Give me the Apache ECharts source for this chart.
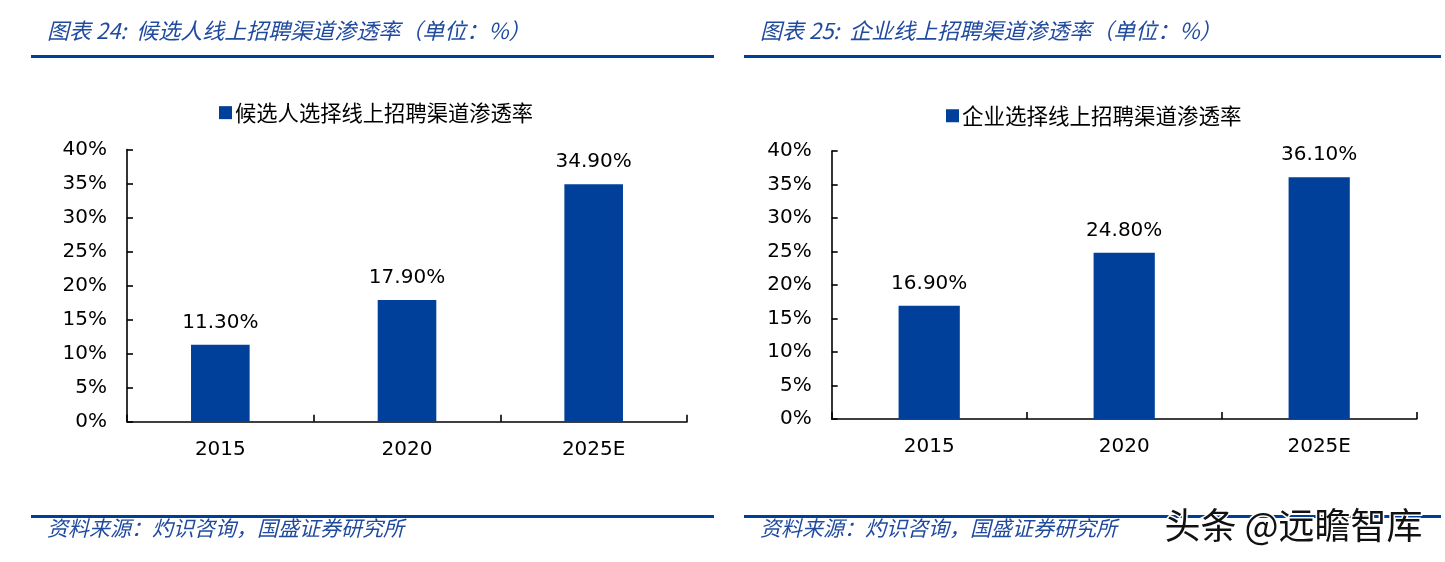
<!DOCTYPE html>
<html>
<head>
<meta charset="utf-8">
<script src="https://cdn.jsdelivr.net/npm/echarts@6/dist/echarts.min.js"></script>
<style>
html,body{margin:0;padding:0;background:#fff;}
#chart{width:1445px;height:562px;}
</style>
</head>
<body>
<div id="chart"></div>
<script>
// ---- data ----
const categories = ['2015', '2020', '2025E'];
const candidateValues = [11.3, 17.9, 34.9];
const enterpriseValues = [16.9, 24.8, 36.1];
const candidateName = '候选人选择线上招聘渠道渗透率';
const enterpriseName = '企业选择线上招聘渠道渗透率';
const titleLeft = '图表 24:  候选人线上招聘渠道渗透率（单位：%）';
const titleRight = '图表 25:  企业线上招聘渠道渗透率（单位：%）';
const sourceText = '资料来源：灼识咨询，国盛证券研究所';
const watermark = '头条 @远瞻智库';
const yMin = 0, yMax = 40, yStep = 5;

const numFont = '"DejaVu Sans", Verdana, sans-serif';
const cjkFont = '"Noto Sans CJK SC", "DejaVu Sans", sans-serif';
const barColor = '#00409a';
const lineBlue = '#003f98';
const titleBlue = '#1f4a9e';

const chart = echarts.init(document.getElementById('chart'), null, {renderer: 'canvas'});

function yAxis(gridIndex) {
  return {
    type: 'value', gridIndex, min: yMin, max: yMax, interval: yStep,
    axisLine: {show: true, lineStyle: {color: '#000', width: 1.6}},
    axisTick: {show: true, inside: true, length: 6, lineStyle: {color: '#000', width: 1.6}},
    splitLine: {show: false},
    axisLabel: {formatter: '{value}%', color: '#000', fontSize: 20, fontFamily: numFont, margin: 20}
  };
}
function xAxis(gridIndex) {
  return {
    type: 'category', gridIndex, data: categories,
    axisLine: {show: true, lineStyle: {color: '#000', width: 1.6}},
    axisTick: {show: true, inside: true, length: 7, lineStyle: {color: '#000', width: 1.6}},
    axisLabel: {color: '#000', fontSize: 20, fontFamily: numFont, margin: 18}
  };
}
function barSeries(name, data, idx) {
  return {
    type: 'bar', name, data, xAxisIndex: idx, yAxisIndex: idx,
    barWidth: '31.4%',
    itemStyle: {color: barColor},
    label: {
      show: true, position: 'top', distance: 12,
      formatter: p => p.value.toFixed(2) + '%',
      color: '#000', fontSize: 20, fontFamily: numFont
    }
  };
}

const option = {
  animation: false,
  backgroundColor: '#fff',
  title: [
    {text: titleLeft, left: 47, top: 20, padding: 0,
     textStyle: {color: titleBlue, fontSize: 22, fontStyle: 'italic', fontWeight: 'normal', fontFamily: cjkFont}},
    {text: titleRight, left: 760, top: 20, padding: 0,
     textStyle: {color: titleBlue, fontSize: 22, fontStyle: 'italic', fontWeight: 'normal', fontFamily: cjkFont}},
    {text: sourceText, left: 47, top: 518, padding: 0,
     textStyle: {color: titleBlue, fontSize: 21, fontStyle: 'italic', fontWeight: 'normal', fontFamily: cjkFont}},
    {text: sourceText, left: 760, top: 518, padding: 0,
     textStyle: {color: titleBlue, fontSize: 21, fontStyle: 'italic', fontWeight: 'normal', fontFamily: cjkFont}}
  ],
  legend: [
    {data: [candidateName], left: 219, top: 102, padding: 0, itemWidth: 13, itemHeight: 13, itemGap: 0,
     icon: 'rect', textStyle: {fontSize: 21.3, color: '#000', fontFamily: cjkFont, padding: [0, 0, 0, -2]}},
    {data: [enterpriseName], left: 946, top: 105, padding: 0, itemWidth: 13, itemHeight: 13, itemGap: 0,
     icon: 'rect', textStyle: {fontSize: 21.5, color: '#000', fontFamily: cjkFont, padding: [0, 0, 0, -2]}}
  ],
  grid: [
    {left: 127, right: 1445 - 687, top: 149.5, bottom: 562 - 421.7},
    {left: 831.7, right: 1445 - 1416.7, top: 151, bottom: 562 - 419}
  ],
  xAxis: [xAxis(0), xAxis(1)],
  yAxis: [yAxis(0), yAxis(1)],
  series: [barSeries(candidateName, candidateValues, 0), barSeries(enterpriseName, enterpriseValues, 1)],
  graphic: [
    {type: 'rect', shape: {x: 31, y: 55, width: 683, height: 3}, style: {fill: lineBlue}, silent: true},
    {type: 'rect', shape: {x: 744, y: 55, width: 697, height: 3}, style: {fill: lineBlue}, silent: true},
    {type: 'rect', shape: {x: 31, y: 515, width: 683, height: 3}, style: {fill: lineBlue}, silent: true},
    {type: 'rect', shape: {x: 744, y: 515, width: 697, height: 3}, style: {fill: lineBlue}, silent: true},
    {type: 'text', left: 1163, top: 506, z: 100, silent: true,
     style: {text: watermark, fill: '#111', fontSize: 36, fontFamily: cjkFont,
             stroke: '#fff', lineWidth: 3}}
  ]
};
chart.setOption(option);
</script>
</body>
</html>
